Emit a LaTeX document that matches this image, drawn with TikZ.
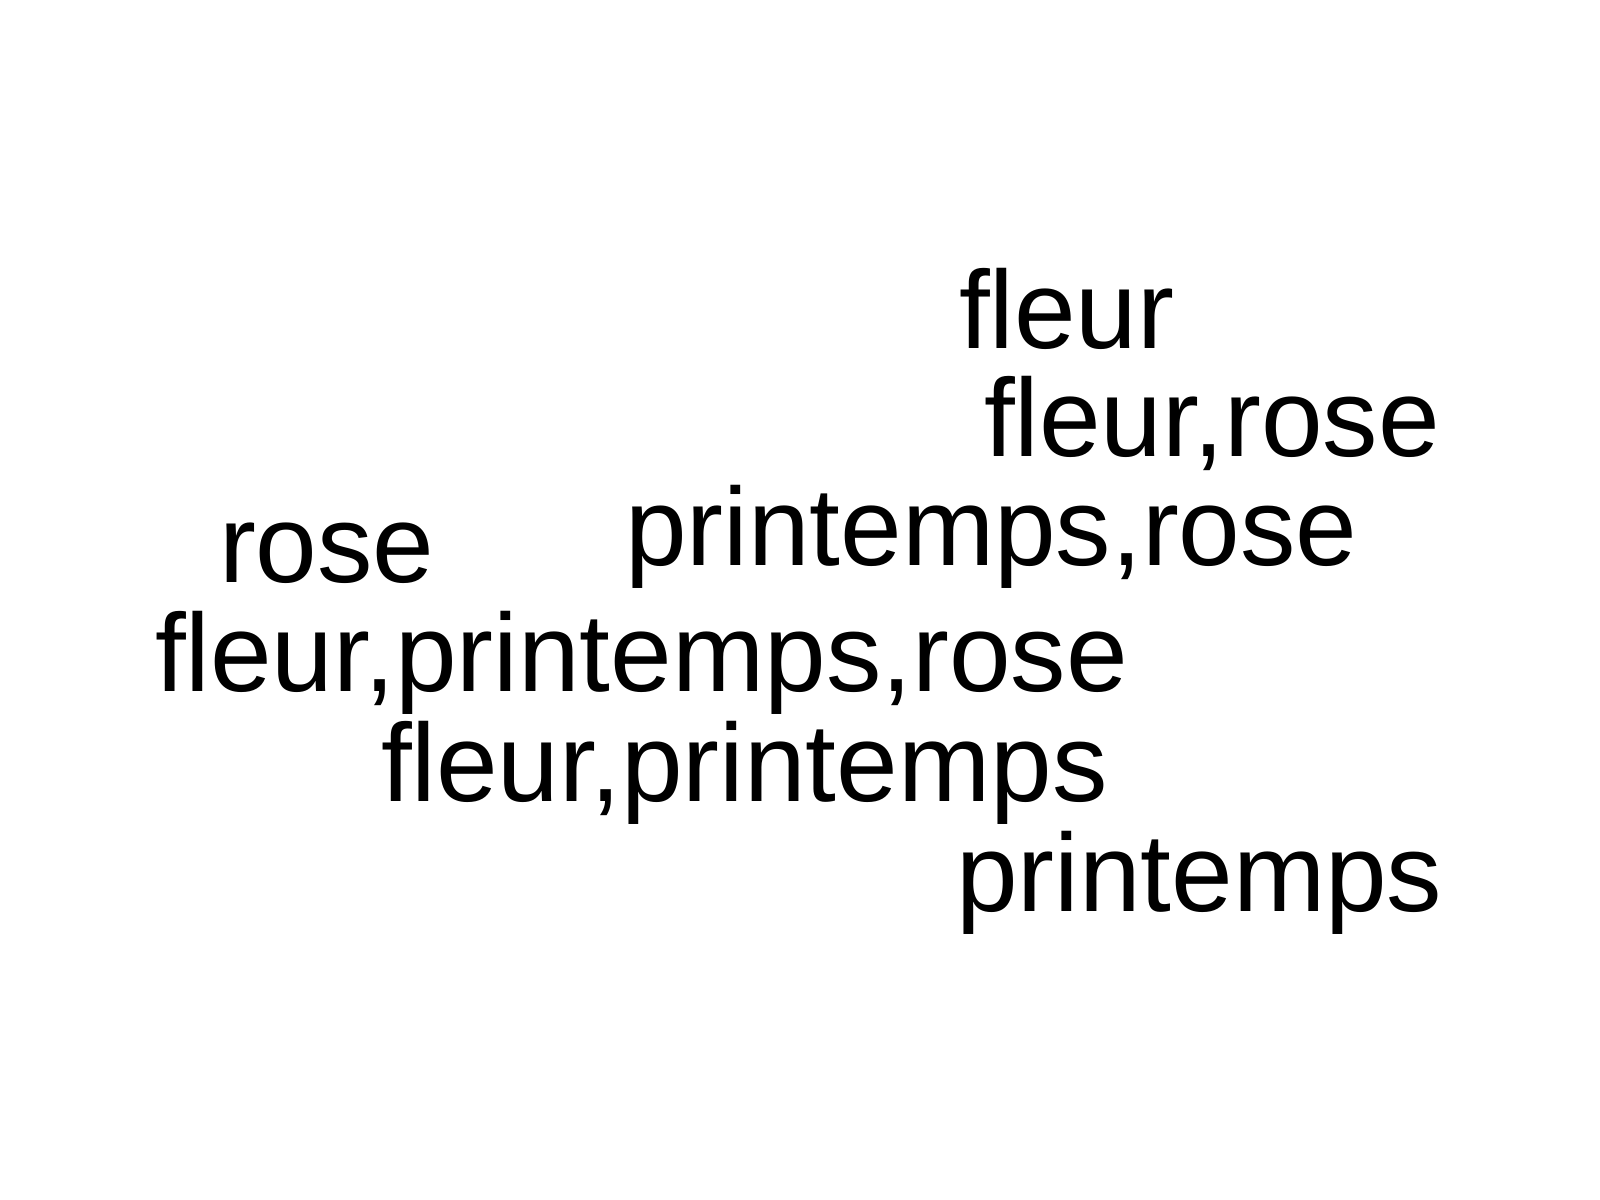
\documentclass[tikz,border=0pt]{standalone}
\usepackage{fontspec}
\setmainfont{Liberation Sans}
\begin{document}
\begin{tikzpicture}[x=0.01cm,y=-0.01cm,
  word/.style={anchor=base west,inner sep=0pt,outer sep=0pt,font=\fontsize{31.5}{36}\selectfont}]
\useasboundingbox[fill=white] (0,0) rectangle (1600,1200);
\node[word] (w1) at (959,348) {fleur};
\node[word] (w2) at (984,456) {fleur,rose};
\node[word] (w3) at (625,565) {printemps,rose};
\node[word] (w4) at (219,582) {rose};
\node[word] (w5) at (155,691) {fleur,printemps,rose};
\node[word] (w6) at (381,801) {fleur,printemps};
\node[word] (w7) at (956,911) {printemps};
\end{tikzpicture}
\end{document}
